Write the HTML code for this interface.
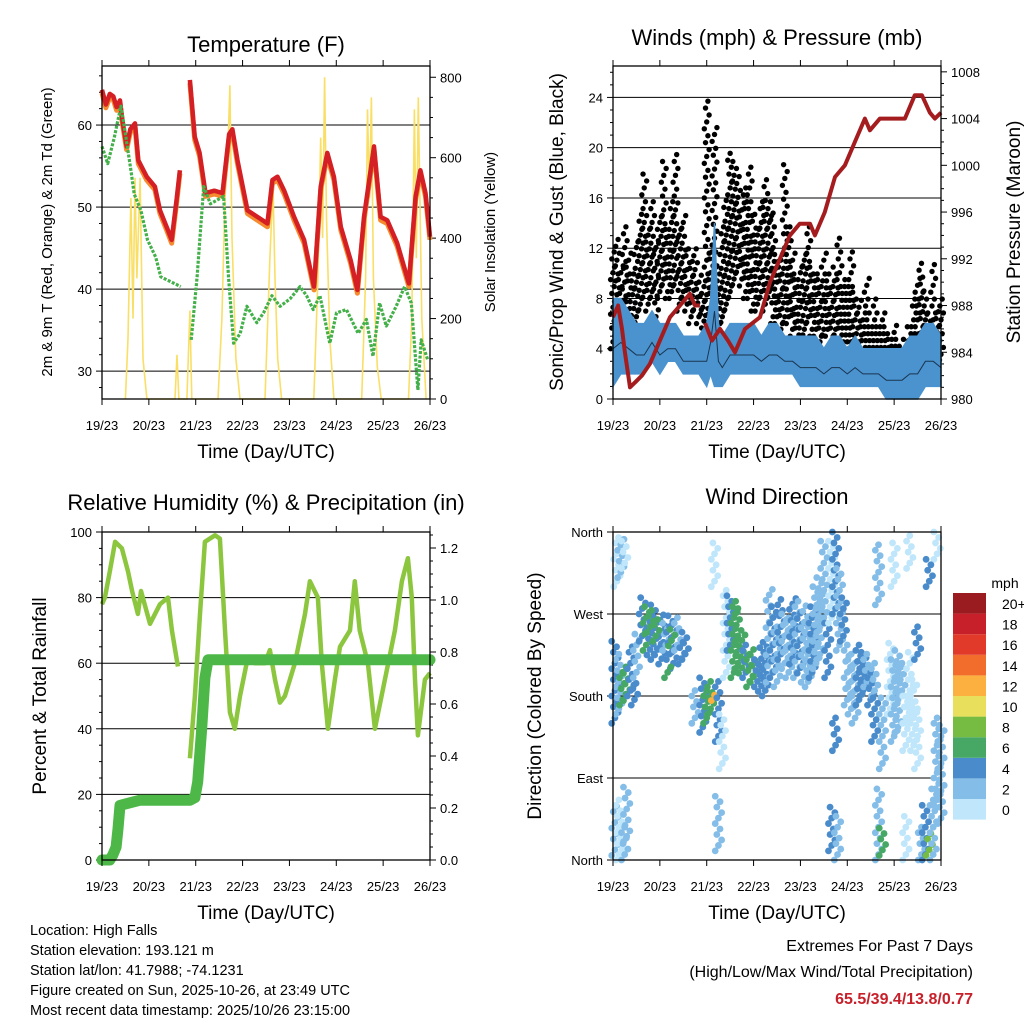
<!DOCTYPE html>
<html><head><meta charset="utf-8"><style>
html,body{margin:0;padding:0;background:#fff;}
svg{display:block;font-family:"Liberation Sans",sans-serif;}
</style></head><body>
<svg id="svg" width="1024" height="1024" viewBox="0 0 1024 1024"></svg>
<script>
// ---------- DATA ----------
const dayLabels=["19/23","20/23","21/23","22/23","23/23","24/23","25/23","26/23"];
const tRedH=[0,2,4,5.8,7.5,9.2,10.5,12.6,14.5,16.9,18.6,22.9,27.1,29.7,33.1,35.7,38.2,39.9,null,45,47.5,50,53,57.5,61.7,65.1,66.8,69.4,74.5,79.6,84.7,87.3,89.9,93.3,98.4,103.5,108.6,112,115.4,118.8,122.3,127.4,130.8,134.2,139.3,142.7,146.1,151.2,157.2,160.6,163.1,165.7,168];
const tRed=[64.3,62.5,63.8,63.5,62.2,63,60.5,57.4,59.5,60.2,55.7,53.7,52.5,49.6,47.6,46,50.9,54.5,null,65.5,58.6,56.6,51.7,52,51.7,58.9,59.5,55.7,49.6,48.8,48,53.3,53.7,52,48.8,46,40.3,52.5,56.6,53.7,47.6,43.5,39.9,48.8,57.4,48.8,48.4,45.6,40.7,51.3,54.5,51.7,46.4];
const tdH=[0,2.9,6.3,9.7,11.4,14.8,16.5,19.9,23.3,27.5,30.1,33.5,40.3,null,45.7,48.7,52.1,55.5,62.3,64.8,67.4,70.8,74.2,79.3,82.7,87,91.2,96.3,101.4,104.8,108.2,111.6,116.7,120.1,125.2,131.2,135.4,138.8,142.2,145.6,150.7,155,158.4,161.8,163.5,166.9];
const td=[57.4,55.3,58.5,62.3,59.8,54.5,51.6,49.6,46,43.9,41.5,41.1,40.3,null,33.8,41.5,52.5,50.4,51.3,41.5,33.4,34.6,37.9,35.9,37.1,39.2,37.9,38.8,40.3,39.2,37.5,39.2,33.4,37.1,37.5,34.6,36.3,31.8,38.3,35.5,37.9,40.3,38.3,27.7,33.8,31.3];
const solarH=[12,13.3,14.8,15.9,16.9,17.9,19.5,21,23,37.4,38.4,39.4,43.5,45,46,59.4,61.4,63,64.5,65.5,66.6,68.6,70.7,83.5,86,87.6,88.6,90,92,108.5,110.6,112,113,114,115,116.7,118.8,133,135,136,137,138,139,141,143,157,158.7,160,161,162,163.8,166];
const solar=[0,150,500,200,550,300,550,100,0,0,110,0,0,220,0,0,200,500,620,780,400,100,0,0,350,530,300,100,0,0,300,650,400,800,450,150,0,0,300,720,500,750,300,80,0,0,200,720,350,750,200,0];
const gustH=[0,2,4,6,8,10,12,14,16,18,20,22,24,26,28,30,32,34,36,38,40,42,44,46,48,50,52,54,56,58,60,62,64,66,68,70,72,74,76,78,80,82,84,86,88,90,92,94,96,98,100,102,104,106,108,110,112,114,116,118,120,122,124,126,128,130,132,134,136,138,140,142,144,146,148,150,152,154,156,158,160,162,164,166,168];
const gustLo=[4,5,4,6,5,5,6,7,8,7,8,6,8,9,8,8,9,7,8,7,6,7,6,4,5,4,4,5,6,7,8,9,10,9,8,8,7,7,8,7,8,6,6,5,6,6,5,4,4,5,6,5,5,4,5,5,4,5,4,4,4,4,3,4,3,3,3,3,3,3,3,2,2,2,2,2,3,3,3,2,3,4,3,2,3];
const gustHi=[12,13,11,14,12,10,13,15,18,14,16,13,15,19,14,16,20,14,15,12,11,12,10,9,24,12,22,11,14,16,20,19,18,16,17,19,15,14,16,18,16,15,12,12,19,14,12,10,11,12,14,11,10,10,12,10,9,11,13,9,10,12,9,8,7,10,6,8,6,7,6,5,6,5,4,5,6,8,10,11,9,7,11,7,8];
const windH=[0,4,8,12,16,20,24,28,32,36,40,44,48,50,52,54,56,60,64,68,72,76,80,84,88,92,96,100,104,108,112,116,120,124,128,132,136,140,144,148,152,156,160,164,168];
const windLo=[1,2,2,2,2,3,2,3,3,2,2,2,1,2,1,1,1,2,2,2,2,2,2,2,2,2,1,1,1,1,1,1,1,1,1,1,1,0,0,0,0,0,1,1,1];
const windHi=[8,8,7,6,6,7,6,6,6,5,5,5,6,8,14,6,5,6,6,6,6,5,6,6,5,5,5,5,5,4,5,5,4,5,4,4,4,4,4,4,5,5,6,6,5];
const presH=[0,2.6,4.6,6.1,8.7,11.8,14.8,18.9,24,29.2,34.3,39.4,42,44.5,null,47.1,50.7,54.8,58.9,62.5,67.6,75.3,80.4,85.5,90.6,95.7,100.9,103.4,108.5,113.7,118.8,123.9,129,131.6,136.7,149.5,154.6,158.2,162.3,164.9,168];
const pres=[987,988,986,984,981,981.5,982,983,985,987,988,989,988,988,null,986.5,985,986,985,984,986,987,990,992,994,995,995,994,996,999,1000,1002,1004,1003,1004,1004,1006,1006,1004.5,1004,1004.5];
const rhH=[0,1.5,4,6.7,10.2,13.3,15.4,18.4,20,24.6,29.7,33.8,35.8,38.9,null,45,47.6,50.2,52.7,57.9,60.4,63,65.5,68,70.7,74.8,78.3,83.5,86,88.6,91.1,93.7,98.8,104,106.5,110.6,112.6,115.7,119.3,121.9,127,129.5,132,136.2,139.8,144.9,150,153.6,156.7,158.7,160.3,161.8,165.4,168];
const rh=[78,80,88,97,95,88,82,75,82,72,78,80,70,59,null,31,50,75,97,99,98,70,45,40,50,62,60,60,64,55,48,50,60,75,85,80,60,40,55,65,70,85,70,60,40,55,70,85,92,80,55,38,55,57];
const pcpH=[0,4,5.6,7.2,8.2,9.2,11.8,19.5,45,47.6,49,51,52.7,54.3,168];
const pcp=[0,0,0.02,0.05,0.12,0.21,0.215,0.23,0.23,0.24,0.3,0.5,0.7,0.77,0.77];
const dirH=[2,4,6,1,3,5,7,9,11,12,1,3,6,7,15,17,19,21,23,25,27,29,31,33,35,37,19,22,30,28,42,46,48,50,52,54,56,52,54,58,60,62,64,66,68,70,72,74,76,78,80,82,84,86,88,90,92,94,96,98,100,102,104,106,108,110,112,114,116,118,112,115,114,120,122,124,126,128,130,132,134,136,138,136,138,134,142,144,146,148,150,152,154,156,144,152,150,156,158,160,162,164,166,168,166,162];
const dirLo=[300,310,320,150,160,170,175,180,170,200,5,0,0,20,240,230,225,220,225,215,230,220,210,230,215,220,250,240,235,200,150,140,150,160,175,130,100,300,10,200,230,200,210,205,200,190,195,190,185,180,195,200,190,220,210,200,215,200,205,195,190,200,210,220,260,200,260,270,230,240,10,0,120,170,160,150,170,180,190,170,180,280,100,0,5,130,160,130,140,180,120,150,120,100,300,320,0,220,0,0,5,0,60,40,330,300];
const dirHi=[358,355,350,240,230,215,205,235,200,250,60,70,40,80,290,280,270,285,265,270,260,270,260,270,240,255,275,265,255,215,190,200,190,200,185,200,160,350,70,300,295,285,280,250,240,230,235,220,240,235,300,280,260,290,270,270,290,285,275,280,260,280,300,310,350,260,355,360,320,290,60,50,160,240,230,220,240,230,230,210,220,350,180,80,40,180,240,220,230,220,180,230,200,170,350,360,50,260,40,60,30,80,160,150,360,330];
const dirSpd=[0,2,0,4,2,6,6,4,4,2,2,0,2,2,4,6,4,4,4,4,2,4,4,2,4,4,6,6,6,6,2,4,6,6,12,4,0,0,2,0,4,6,6,6,4,6,6,4,4,4,2,4,2,4,2,2,4,2,4,2,2,4,2,2,2,4,0,4,2,4,4,2,4,2,2,2,4,4,2,4,2,2,2,2,6,4,0,2,2,2,0,0,0,0,0,0,0,4,2,4,8,2,2,2,0,4];
const spdBins=["0","2","4","6","8","10","12","14","16","18","20+"];
const spdColors=["#bfe6fa","#84bde8","#4a8ccb","#47a866","#76bc43","#e8e05c","#fbb040","#f26d2c","#e23a2a","#c8202a","#9b1c20"];

// ---------- RENDER ----------
const NS="http://www.w3.org/2000/svg";
const svg=document.getElementById('svg');
function mk(tag,attrs,parent,name,inter){
  const e=document.createElementNS(NS,tag);
  for(const k in attrs)e.setAttribute(k,attrs[k]);
  
  
  (parent||svg).appendChild(e);return e;
}
function txt(x,y,s,size,anchor,parent,name,extra){
  const t=mk('text',Object.assign({x:x,y:y,'font-size':size,'text-anchor':anchor||'middle',fill:'#000'},extra||{}),parent,name,false);
  t.textContent=s;return t;
}
function makeAxes(L,T,R,B,lmin,lmax,rmin,rmax){
  const xs=h=>L+h/168*(R-L);
  const yl=v=>B-(v-lmin)/(lmax-lmin)*(B-T);
  const yr=v=>B-(v-rmin)/(rmax-rmin)*(B-T);
  return {xs,yl,yr};
}
function pathFrom(hs,vs,xs,ys){
  let d='',pen=false;
  for(let i=0;i<hs.length;i++){
    if(hs[i]===null||vs[i]===null){pen=false;continue;}
    d+=(pen?'L':'M')+xs(hs[i]).toFixed(1)+','+ys(vs[i]).toFixed(1);pen=true;
  }
  return d;
}
function frame(g,L,T,R,B,pre){
  for(let d=0;d<=7;d++){
    const x=L+d*(R-L)/7;
    mk('line',{x1:x,y1:B,x2:x,y2:B+6,stroke:'#000','stroke-width':1},g,pre+'-x-tick',false);
    mk('line',{x1:x,y1:T,x2:x,y2:T-6,stroke:'#000','stroke-width':1},g,pre+'-x-tick-top',false);
    txt(x,B+31,dayLabels[d],13,'middle',g,pre+'-x-tick-label');
  }
  txt((L+R)/2,B+59,'Time (Day/UTC)',19,'middle',g,pre+'-x-axis-title');
  mk('rect',{x:L,y:T,width:R-L,height:B-T,fill:'none',stroke:'#000','stroke-width':1.3},g,pre+'-plot-frame',false);
}
function leftTicks(g,L,R,vals,labels,y,pre,grid){
  vals.forEach((v,i)=>{
    const yy=y(v);
    mk('line',{x1:L-6,y1:yy,x2:L,y2:yy,stroke:'#000'},g,pre+'-y-tick',false);
    txt(L-10,yy+5,labels[i],13,'end',g,pre+'-y-tick-label');
    if(grid&&grid(v))mk('line',{x1:L,y1:yy,x2:R,y2:yy,stroke:'#000','stroke-width':1},g,pre+'-gridline',false);
  });
}
function minorL(g,L,vals,y,pre){vals.forEach(v=>mk('line',{x1:L-3,y1:y(v),x2:L,y2:y(v),stroke:'#000'},g,pre+'-y-minor-tick',false));}
function rightTicks(g,R,vals,labels,y,minor,pre){
  vals.forEach((v,i)=>{const yy=y(v);
    mk('line',{x1:R,y1:yy,x2:R+6,y2:yy,stroke:'#000'},g,pre+'-y2-tick',false);
    txt(R+10,yy+5,labels[i],13,'start',g,pre+'-y2-tick-label');});
  minor.forEach(v=>mk('line',{x1:R,y1:y(v),x2:R+3,y2:y(v),stroke:'#000'},g,pre+'-y2-minor-tick',false));
}
function rotText(x,y,s,size,g,name){
  return txt(x,y,s,size,'middle',g,name,{transform:'rotate(-90 '+x+' '+y+')'});
}

// ---- Panel 1 Temperature ----
(function(){
  const L=102,T=66,R=430,B=399;
  const g=mk('g',{},svg,'temperature-panel',false);
  const a=makeAxes(L,T,R,B,26.6,67.2,0,828);
  txt((L+R)/2,52,'Temperature (F)',22,'middle',g,'temperature-title');
  leftTicks(g,L,R,[30,40,50,60],['30','40','50','60'],a.yl,'temp',()=>true);
  minorL(g,L,[28,32,34,36,38,42,44,46,48,52,54,56,58,62,64,66],a.yl,'temp');
  const mn=[];for(let v=50;v<=800;v+=50)if(v%200)mn.push(v);
  rightTicks(g,R,[0,200,400,600,800],['0','200','400','600','800'],a.yr,mn,'solar');
  rotText(52,232,'2m & 9m T (Red, Orange) & 2m Td (Green)',15,g,'temperature-y-axis-title');
  rotText(495,232,'Solar Insolation (Yellow)',15,g,'solar-y-axis-title');
  mk('path',{d:pathFrom(solarH,solar,a.xs,a.yr),fill:'none',stroke:'#f9df66','stroke-width':1.6},g,'solar-line',false);
  mk('path',{d:pathFrom(tRedH,tRed.map(v=>v===null?null:v-0.4),a.xs,a.yl),fill:'none',stroke:'#f58a2e','stroke-width':5,'stroke-linejoin':'round'},g,'temp-9m-orange-line',false);
  mk('path',{d:pathFrom(tRedH,tRed,a.xs,a.yl),fill:'none',stroke:'#d42024','stroke-width':4.5,'stroke-linejoin':'round'},g,'temp-2m-red-line',false);
  mk('path',{d:pathFrom(tdH,td,a.xs,a.yl),fill:'none',stroke:'#43b04a','stroke-width':3.2,'stroke-dasharray':'3 1.5','stroke-linejoin':'round'},g,'dewpoint-green-line',false);
  frame(g,L,T,R,B,'temp');
})();

// ---- Panel 2 Winds ----
(function(){
  const L=613,T=66,R=941,B=399;
  const g=mk('g',{},svg,'winds-panel',false);
  const a=makeAxes(L,T,R,B,0,26.5,980,1008.5);
  txt((L+R)/2,45,'Winds (mph) & Pressure (mb)',22,'middle',g,'winds-title');
  leftTicks(g,L,R,[0,4,8,12,16,20,24],['0','4','8','12','16','20','24'],a.yl,'wind',v=>v>0);
  minorL(g,L,[1,2,3,5,6,7,9,10,11,13,14,15,17,18,19,21,22,23,25,26],a.yl,'wind');
  const mn=[];for(let v=981;v<=1008;v++)if(v%4)mn.push(v);
  rightTicks(g,R,[980,984,988,992,996,1000,1004,1008],['980','984','988','992','996','1000','1004','1008'],a.yr,mn,'pressure');
  rotText(563,232,'Sonic/Prop Wind & Gust (Blue, Black)',19,g,'wind-y-axis-title');
  rotText(1020,232,'Station Pressure (Maroon)',19,g,'pressure-y-axis-title');
  const gg=mk('g',{},g,'gust-dots',false);
  for(let i=0;i<gustH.length;i++){
    let k=0;
    for(let v=gustLo[i];v<=gustHi[i];v+=0.55){
      mk('circle',{cx:a.xs(gustH[i])+((k*7)%5-2)*1.2,cy:a.yl(v),r:2.7,fill:'#000'},gg,'gust-dot',false);
      k++;
    }
  }
  let top='',bot='';
  for(let i=0;i<windH.length;i++){top+=(i?'L':'M')+a.xs(windH[i]).toFixed(1)+','+a.yl(windHi[i]).toFixed(1);}
  for(let i=windH.length-1;i>=0;i--){bot+='L'+a.xs(windH[i]).toFixed(1)+','+a.yl(windLo[i]).toFixed(1);}
  mk('path',{d:top+bot+'Z',fill:'#4b93cf',stroke:'#4b93cf','stroke-width':1.5},g,'wind-speed-band',false);
  mk('path',{d:pathFrom(windH,windLo.map((v,i)=>(v+windHi[i])/2-0.5),a.xs,a.yl),fill:'none',stroke:'#1a3550','stroke-width':1},g,'wind-speed-mean-line',false);
  mk('path',{d:pathFrom(presH,pres,a.xs,a.yr),fill:'none',stroke:'#a51c1f','stroke-width':4,'stroke-linejoin':'round'},g,'pressure-maroon-line',false);
  frame(g,L,T,R,B,'wind');
})();

// ---- Panel 3 RH ----
(function(){
  const L=102,T=532,R=430,B=860;
  const g=mk('g',{},svg,'humidity-panel',false);
  const a=makeAxes(L,T,R,B,0,100,0,1.2615);
  txt(266,510,'Relative Humidity (%) & Precipitation (in)',22,'middle',g,'humidity-title');
  leftTicks(g,L,R,[0,20,40,60,80,100],['0','20','40','60','80','100'],a.yl,'rh',v=>v>0&&v<100);
  minorL(g,L,[5,10,15,25,30,35,45,50,55,65,70,75,85,90,95],a.yl,'rh');
  const mn=[];for(let v=0.05;v<1.26;v+=0.05)if(Math.round(v*100)%20)mn.push(v);
  rightTicks(g,R,[0,0.2,0.4,0.6,0.8,1.0,1.2],['0.0','0.2','0.4','0.6','0.8','1.0','1.2'],a.yr,mn,'precip');
  rotText(46,696,'Percent & Total Rainfall',19,g,'humidity-y-axis-title');
  mk('path',{d:pathFrom(rhH,rh,a.xs,a.yl),fill:'none',stroke:'#8cc63f','stroke-width':4.5,'stroke-linejoin':'round'},g,'rh-line',false);
  mk('path',{d:pathFrom(pcpH,pcp,a.xs,a.yr),fill:'none',stroke:'#4db848','stroke-width':11,'stroke-linejoin':'round','stroke-linecap':'round'},g,'precip-line',false);
  frame(g,L,T,R,B,'rh');
})();

// ---- Panel 4 Wind direction ----
(function(){
  const L=613,T=532,R=941,B=860;
  const g=mk('g',{},svg,'wind-direction-panel',false);
  const a=makeAxes(L,T,R,B,0,360,0,360);
  txt((L+R)/2,504,'Wind Direction',22,'middle',g,'wind-direction-title');
  leftTicks(g,L,R,[0,90,180,270,360],['North','East','South','West','North'],a.yl,'dir',v=>v>0&&v<360);
  rotText(541,696,'Direction (Colored By Speed)',19,g,'direction-y-axis-title');
  const dg=mk('g',{},g,'direction-dots',false);
  for(let i=0;i<dirH.length;i++){
    const ci=Math.min(10,Math.floor(dirSpd[i]/2));
    let k=0;
    for(let v=dirLo[i];v<=dirHi[i];v+=6){
      mk('circle',{cx:a.xs(dirH[i])+((k*7)%5-2)*1.6,cy:a.yl(v),r:3.4,fill:spdColors[ci]},dg,'direction-dot',false);
      k++;
    }
  }
  frame(g,L,T,R,B,'dir');
  const lg=mk('g',{},svg,'speed-legend',false);
  txt(1005,588,'mph',14,'middle',lg,'legend-title');
  for(let i=0;i<11;i++){
    const y=593+(10-i)*20.6;
    mk('rect',{x:953,y:y,width:33,height:20.6,fill:spdColors[i]},lg,'legend-swatch',false);
    txt(1002,y+16,spdBins[i],14,'start',lg,'legend-label');
  }
})();

// ---- Footer ----
const fg=mk('g',{},svg,'footer-info',false);
['Location: High Falls','Station elevation: 193.121 m','Station lat/lon: 41.7988; -74.1231','Figure created on Sun, 2025-10-26, at 23:49 UTC','Most recent data timestamp: 2025/10/26 23:15:00'].forEach((s,i)=>txt(30,935+i*20,s,14.5,'start',fg,'footer-line'));
txt(973,951,'Extremes For Past 7 Days',16,'end',fg,'extremes-title');
txt(973,977,'(High/Low/Max Wind/Total Precipitation)',16,'end',fg,'extremes-subtitle');
txt(973,1004,'65.5/39.4/13.8/0.77',16,'end',fg,'extremes-values',{fill:'#c8202a','font-weight':'bold'});
</script>
</body></html>
